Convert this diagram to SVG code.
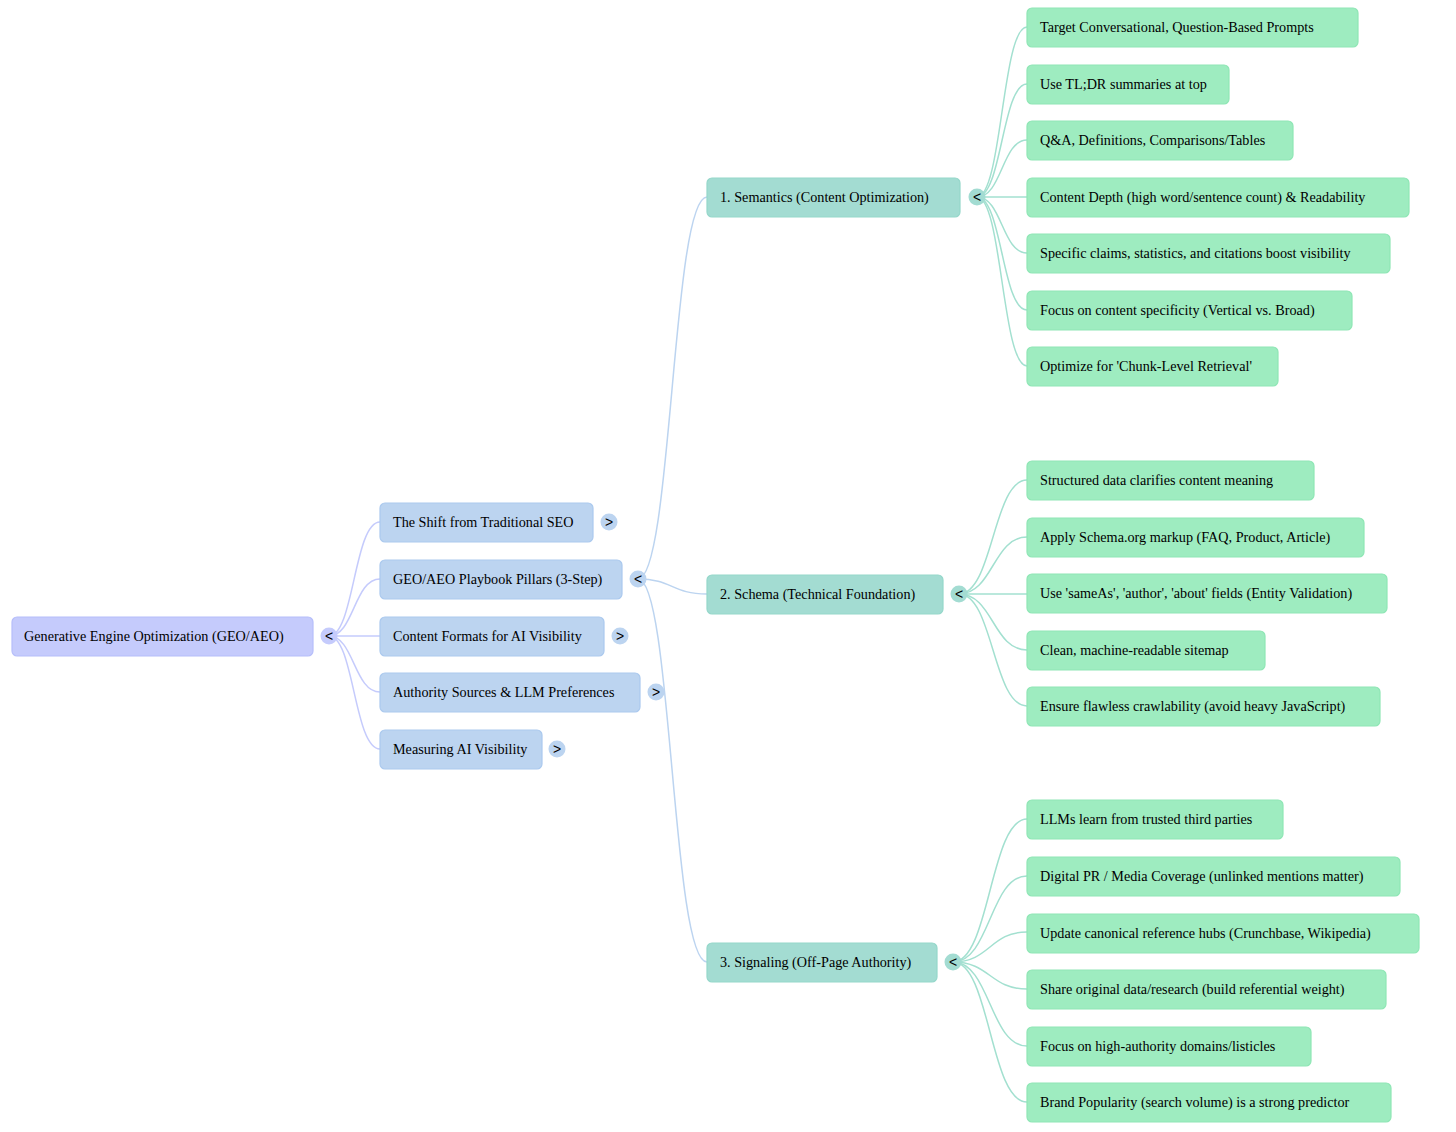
<svg xmlns="http://www.w3.org/2000/svg" width="1456" height="1132" viewBox="0 0 1456 1132">
<style>
text{font-family:"Liberation Serif","Times New Roman",serif;font-size:14.2px;fill:#000}
.tg{font-family:"Liberation Sans",Arial,sans-serif;font-size:14px;font-weight:normal;text-anchor:middle;fill:#000}
.n0 rect{fill:#c5cbfc;stroke:#b6befa;stroke-width:1.2}
.n0 circle{fill:#c5cbfc}
.n1 rect{fill:#bcd4f0;stroke:#abc9ee;stroke-width:1.2}
.n1 circle{fill:#bcd4f0}
.n2 rect{fill:#a3dcd2;stroke:#95d7ca;stroke-width:1.2}
.n2 circle{fill:#a3dcd2}
.n3 rect{fill:#9eecc0;stroke:#8fe6b5;stroke-width:1.2}
path{fill:none;stroke-width:1.5}
.l0{stroke:#c5cbfc}
.l1{stroke:#bcd4f0}
.l2{stroke:#a3e0d0}
</style>
<g id="connectors">
<path class="l0" d="M329 636 C354 636 354 522 380 522"/>
<path class="l0" d="M329 636 C354 636 354 579 380 579"/>
<path class="l0" d="M329 636 L380 636"/>
<path class="l0" d="M329 636 C354 636 354 692 380 692"/>
<path class="l0" d="M329 636 C354 636 354 749 380 749"/>
<path class="l1" d="M638 579 C672 579 672 197 707 197"/>
<path class="l1" d="M638 579 C672 579 672 594 707 594"/>
<path class="l1" d="M638 579 C672 579 672 962 707 962"/>
<path class="l2" d="M977 197 C1002 197 1002 27 1027 27"/>
<path class="l2" d="M977 197 C1002 197 1002 84 1027 84"/>
<path class="l2" d="M977 197 C1002 197 1002 140 1027 140"/>
<path class="l2" d="M977 197 L1027 197"/>
<path class="l2" d="M977 197 C1002 197 1002 253 1027 253"/>
<path class="l2" d="M977 197 C1002 197 1002 310 1027 310"/>
<path class="l2" d="M977 197 C1002 197 1002 366 1027 366"/>
<path class="l2" d="M959 594 C993 594 993 480 1027 480"/>
<path class="l2" d="M959 594 C993 594 993 537 1027 537"/>
<path class="l2" d="M959 594 L1027 594"/>
<path class="l2" d="M959 594 C993 594 993 650 1027 650"/>
<path class="l2" d="M959 594 C993 594 993 706 1027 706"/>
<path class="l2" d="M953 962 C990 962 990 819 1027 819"/>
<path class="l2" d="M953 962 C990 962 990 876 1027 876"/>
<path class="l2" d="M953 962 C990 962 990 932 1027 932"/>
<path class="l2" d="M953 962 C990 962 990 989 1027 989"/>
<path class="l2" d="M953 962 C990 962 990 1046 1027 1046"/>
<path class="l2" d="M953 962 C990 962 990 1102 1027 1102"/>
</g>
<g id="root" class="n0"><rect x="12" y="617" width="301" height="39" rx="5"/><text x="24" y="641">Generative Engine Optimization (GEO/AEO)</text><circle cx="329" cy="636" r="8.5"/><text class="tg" x="329" y="641">&lt;</text></g>
<g id="shift" class="n1"><rect x="380" y="503" width="213" height="39" rx="5"/><text x="393" y="527">The Shift from Traditional SEO</text><circle cx="609" cy="522" r="8.5"/><text class="tg" x="609" y="527">&gt;</text></g>
<g id="pillars" class="n1"><rect x="380" y="560" width="242" height="39" rx="5"/><text x="393" y="584">GEO/AEO Playbook Pillars (3-Step)</text><circle cx="638" cy="579" r="8.5"/><text class="tg" x="638" y="584">&lt;</text></g>
<g id="formats" class="n1"><rect x="380" y="617" width="224" height="39" rx="5"/><text x="393" y="641">Content Formats for AI Visibility</text><circle cx="620" cy="636" r="8.5"/><text class="tg" x="620" y="641">&gt;</text></g>
<g id="authority" class="n1"><rect x="380" y="673" width="260" height="39" rx="5"/><text x="393" y="697">Authority Sources &amp; LLM Preferences</text><circle cx="656" cy="692" r="8.5"/><text class="tg" x="656" y="697">&gt;</text></g>
<g id="measuring" class="n1"><rect x="380" y="730" width="162" height="39" rx="5"/><text x="393" y="754">Measuring AI Visibility</text><circle cx="557" cy="749" r="8.5"/><text class="tg" x="557" y="754">&gt;</text></g>
<g id="semantics" class="n2"><rect x="707" y="178" width="253" height="39" rx="5"/><text x="720" y="202">1. Semantics (Content Optimization)</text><circle cx="977" cy="197" r="8.5"/><text class="tg" x="977" y="202">&lt;</text></g>
<g id="schema" class="n2"><rect x="707" y="575" width="236" height="39" rx="5"/><text x="720" y="599">2. Schema (Technical Foundation)</text><circle cx="959" cy="594" r="8.5"/><text class="tg" x="959" y="599">&lt;</text></g>
<g id="signaling" class="n2"><rect x="707" y="943" width="230" height="39" rx="5"/><text x="720" y="967">3. Signaling (Off-Page Authority)</text><circle cx="953" cy="962" r="8.5"/><text class="tg" x="953" y="967">&lt;</text></g>
<g id="s1" class="n3"><rect x="1027" y="8" width="331" height="39" rx="5"/><text x="1040" y="32">Target Conversational, Question-Based Prompts</text></g>
<g id="s2" class="n3"><rect x="1027" y="65" width="202" height="39" rx="5"/><text x="1040" y="89">Use TL;DR summaries at top</text></g>
<g id="s3" class="n3"><rect x="1027" y="121" width="266" height="39" rx="5"/><text x="1040" y="145">Q&amp;A, Definitions, Comparisons/Tables</text></g>
<g id="s4" class="n3"><rect x="1027" y="178" width="382" height="39" rx="5"/><text x="1040" y="202">Content Depth (high word/sentence count) &amp; Readability</text></g>
<g id="s5" class="n3"><rect x="1027" y="234" width="363" height="39" rx="5"/><text x="1040" y="258">Specific claims, statistics, and citations boost visibility</text></g>
<g id="s6" class="n3"><rect x="1027" y="291" width="325" height="39" rx="5"/><text x="1040" y="315">Focus on content specificity (Vertical vs. Broad)</text></g>
<g id="s7" class="n3"><rect x="1027" y="347" width="251" height="39" rx="5"/><text x="1040" y="371">Optimize for 'Chunk-Level Retrieval'</text></g>
<g id="c1" class="n3"><rect x="1027" y="461" width="287" height="39" rx="5"/><text x="1040" y="485">Structured data clarifies content meaning</text></g>
<g id="c2" class="n3"><rect x="1027" y="518" width="337" height="39" rx="5"/><text x="1040" y="542">Apply Schema.org markup (FAQ, Product, Article)</text></g>
<g id="c3" class="n3"><rect x="1027" y="574" width="360" height="39" rx="5"/><text x="1040" y="598">Use 'sameAs', 'author', 'about' fields (Entity Validation)</text></g>
<g id="c4" class="n3"><rect x="1027" y="631" width="238" height="39" rx="5"/><text x="1040" y="655">Clean, machine-readable sitemap</text></g>
<g id="c5" class="n3"><rect x="1027" y="687" width="353" height="39" rx="5"/><text x="1040" y="711">Ensure flawless crawlability (avoid heavy JavaScript)</text></g>
<g id="g1" class="n3"><rect x="1027" y="800" width="256" height="39" rx="5"/><text x="1040" y="824">LLMs learn from trusted third parties</text></g>
<g id="g2" class="n3"><rect x="1027" y="857" width="373" height="39" rx="5"/><text x="1040" y="881">Digital PR / Media Coverage (unlinked mentions matter)</text></g>
<g id="g3" class="n3"><rect x="1027" y="914" width="392" height="39" rx="5"/><text x="1040" y="938">Update canonical reference hubs (Crunchbase, Wikipedia)</text></g>
<g id="g4" class="n3"><rect x="1027" y="970" width="359" height="39" rx="5"/><text x="1040" y="994">Share original data/research (build referential weight)</text></g>
<g id="g5" class="n3"><rect x="1027" y="1027" width="284" height="39" rx="5"/><text x="1040" y="1051">Focus on high-authority domains/listicles</text></g>
<g id="g6" class="n3"><rect x="1027" y="1083" width="364" height="39" rx="5"/><text x="1040" y="1107">Brand Popularity (search volume) is a strong predictor</text></g>
</svg>
